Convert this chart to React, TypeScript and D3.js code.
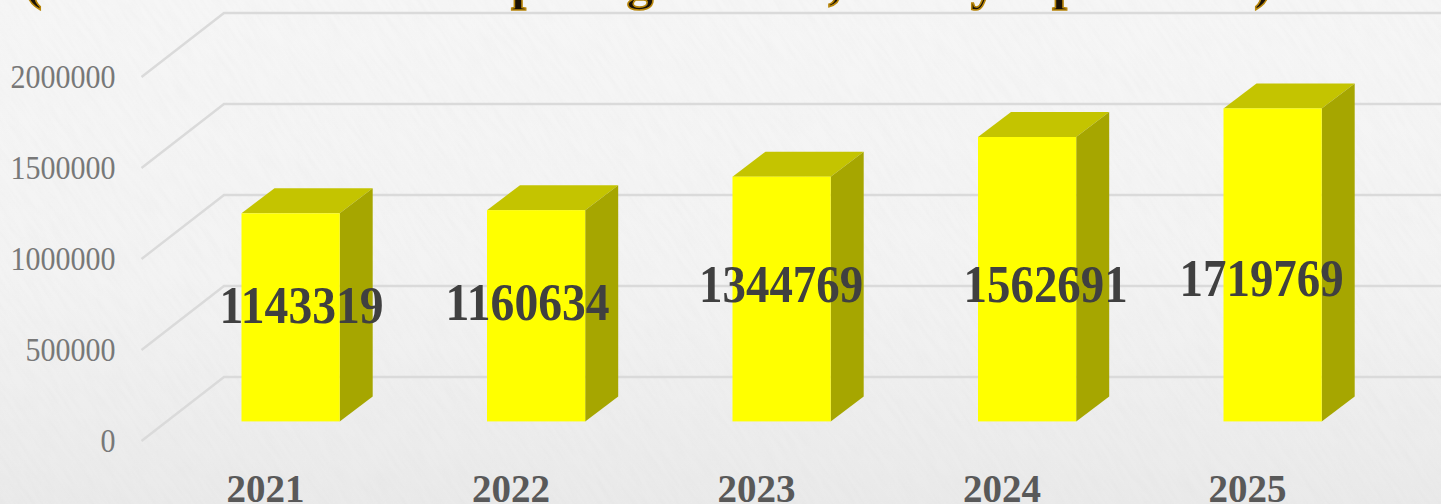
import React from "react";
import * as d3 from "d3";

const categories = ["2021", "2022", "2023", "2024", "2025"];
const values = [1143319, 1160634, 1344769, 1562691, 1719769];
const tickValues = [0, 500000, 1000000, 1500000, 2000000];
const titleGlyphs = ["(", "p", "g", ",", "y", "p", ")"];

const W = 1441, H = 504;
const SERIF = "'Liberation Serif', serif";
const depth = { grid: [82.5, -64], bar: [33, -25] };
const barDrop = 19.6;
const labelNudge = [11, -8.5, -0.5, 18.5, -11];
const labelBaseline = [323, 320, 302, 302, 296];
const glyphX = [33, 526, 640, 835, 984, 1067, 1263];

const y = d3.scaleLinear().domain([0, 2000000]).range([441, 77]);
const x = d3.scaleBand().domain(categories).range([167.85, 1395.35]).paddingInner(0.6).paddingOuter(0.3);

const poly = (pts: [number, number][]) => d3.line()(pts.concat([pts[0]])) as string;

export default function App() {
  const bw = x.bandwidth();
  return (
    <svg width={W} height={H} viewBox={`0 0 ${W} ${H}`} style={{ position: "absolute", left: 0, top: 0, display: "block" }}>
      <defs>
        <linearGradient id="bg" x1="0" y1="0" x2="0" y2="1">
          <stop offset="0" stopColor="#f6f6f6" />
          <stop offset="0.55" stopColor="#f3f3f3" />
          <stop offset="1" stopColor="#eaeaea" />
        </linearGradient>
        <filter id="paper" x="0" y="0" width="100%" height="100%">
          <feTurbulence type="fractalNoise" baseFrequency="0.25 0.03" numOctaves="3" seed="4" />
          <feColorMatrix values="0 0 0 0 0.45  0 0 0 0 0.45  0 0 0 0 0.45  0.9 0 0 0 -0.3" />
        </filter>
        <clipPath id="titleClip"><rect x="0" y="0" width={W} height="11" /></clipPath>
      </defs>
      <rect width={W} height={H} fill="url(#bg)" />
      <g opacity="0.1" transform={`rotate(-35 ${W / 2} ${H / 2})`}>
        <rect x={-300} y={-700} width={W + 600} height={H + 1400} filter="url(#paper)" />
      </g>

      {/* title, cut off by the top edge */}
      <g clipPath="url(#titleClip)" fontFamily={SERIF} fontWeight="bold" fontSize={54} fill="#1a1208" stroke="#b8860b" strokeWidth={1.6} textAnchor="middle">
        {titleGlyphs.map((g, i) => (
          <text key={i} x={glyphX[i]} y={-2}>{g}</text>
        ))}
      </g>

      {/* walls */}
      <g fill="none" stroke="#dadada" strokeWidth={2.4}>
        {tickValues.map((t) => (
          <path key={t} d={d3.line()([
            [141.5, y(t)],
            [141.5 + depth.grid[0], y(t) + depth.grid[1]],
            [W, y(t) + depth.grid[1]],
          ]) as string} />
        ))}
      </g>

      {/* tick labels */}
      <g fontFamily={SERIF} fontSize={33} fill="#787878" textAnchor="end">
        {tickValues.map((t) => {
          const s = String(t);
          return (
            <text key={t} x={115.5} y={y(t) + 11} textLength={s.length * 15} lengthAdjust="spacingAndGlyphs">{s}</text>
          );
        })}
      </g>

      {/* bars */}
      {values.map((v, i) => {
        const x0 = x(categories[i]) as number;
        const x1 = x0 + bw;
        const top = y(v) - barDrop;
        const bot = y(0) - barDrop;
        const [dx, dy] = depth.bar;
        return (
          <g key={categories[i]}>
            <path d={poly([[x0, top], [x1, top], [x1 + dx, top + dy], [x0 + dx, top + dy]])} fill="#c4c400" />
            <path d={poly([[x1, top], [x1 + dx, top + dy], [x1 + dx, bot + dy], [x1, bot]])} fill="#a6a600" />
            <rect x={x0} y={top} width={bw} height={bot - top} fill="#ffff00" />
          </g>
        );
      })}

      {/* data labels */}
      <g fontFamily={SERIF} fontWeight="bold" fontSize={52} fill="#404040" textAnchor="middle">
        {values.map((v, i) => {
          const cx = (x(categories[i]) as number) + bw / 2 + labelNudge[i];
          return (
            <text key={i} x={cx} y={labelBaseline[i]} textLength={164} lengthAdjust="spacingAndGlyphs">{v}</text>
          );
        })}
      </g>

      {/* categories */}
      <g fontFamily={SERIF} fontWeight="bold" fontSize={39} fill="#595959" textAnchor="middle">
        {categories.map((c) => (
          <text key={c} x={(x(c) as number) + bw / 2 - 25} y={502}>{c}</text>
        ))}
      </g>
    </svg>
  );
}
